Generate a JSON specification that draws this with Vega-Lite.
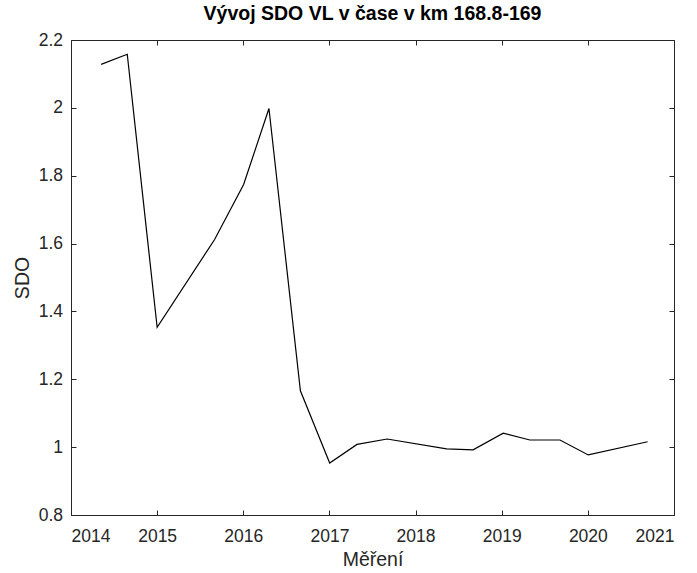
{
  "$schema": "https://vega.github.io/schema/vega-lite/v6.json",
  "autosize": "none",
  "padding": {"left": 71, "top": 40, "right": 22, "bottom": 58},
  "width": 603,
  "height": 475,
  "background": "white",
  "title": {
    "text": "Vývoj SDO VL v čase v km 168.8-169",
    "font": "Liberation Sans",
    "fontSize": 19.5,
    "fontWeight": "bold",
    "color": "#000000",
    "anchor": "middle",
    "offset": 7
  },
  "config": {
    "view": {"stroke": null},
    "axis": {
      "grid": false,
      "domainColor": "#262626",
      "tickColor": "#262626",
      "labelColor": "#262626",
      "titleColor": "#262626",
      "labelFont": "Liberation Sans",
      "titleFont": "Liberation Sans",
      "labelFontSize": 17.5,
      "titleFontSize": 19.5,
      "titleFontWeight": "normal",
      "tickSize": -5,
      "domainWidth": 1,
      "tickWidth": 1
    }
  },
  "data": {
    "values": [
      {"t": 2014.35, "sdo": 2.128},
      {"t": 2014.653, "sdo": 2.158},
      {"t": 2015.0, "sdo": 1.353},
      {"t": 2015.667, "sdo": 1.612},
      {"t": 2016.004, "sdo": 1.774},
      {"t": 2016.298, "sdo": 1.998},
      {"t": 2016.663, "sdo": 1.166},
      {"t": 2017.003, "sdo": 0.953},
      {"t": 2017.32, "sdo": 1.008},
      {"t": 2017.67, "sdo": 1.024},
      {"t": 2018.36, "sdo": 0.995},
      {"t": 2018.668, "sdo": 0.992},
      {"t": 2019.017, "sdo": 1.041},
      {"t": 2019.327, "sdo": 1.021},
      {"t": 2019.676, "sdo": 1.021},
      {"t": 2020.005, "sdo": 0.977},
      {"t": 2020.694, "sdo": 1.016}
    ]
  },
  "layer": [
    {
      "mark": {"type": "line", "color": "#000000", "strokeWidth": 1.2},
      "encoding": {
        "x": {
          "field": "t", "type": "quantitative",
          "scale": {"domain": [2014, 2021], "nice": false, "zero": false},
          "axis": {"orient": "bottom", "title": "Měření", "values": [2014, 2015, 2016, 2017, 2018, 2019, 2020, 2021], "format": "d", "labelPadding": 17, "titlePadding": 6}
        },
        "y": {
          "field": "sdo", "type": "quantitative",
          "scale": {"domain": [0.8, 2.2], "nice": false, "zero": false},
          "axis": {"orient": "left", "title": "SDO", "values": [0.8, 1, 1.2, 1.4, 1.6, 1.8, 2, 2.2], "format": "~g", "labelPadding": 13.5, "titlePadding": 6}
        }
      }
    },
    {
      "mark": {"type": "line", "strokeOpacity": 0},
      "encoding": {
        "x": {
          "field": "t", "type": "quantitative",
          "scale": {"domain": [2014, 2021], "nice": false, "zero": false},
          "axis": {"orient": "top", "title": null, "labels": false, "values": [2014, 2015, 2016, 2017, 2018, 2019, 2020, 2021]}
        },
        "y": {
          "field": "sdo", "type": "quantitative",
          "scale": {"domain": [0.8, 2.2], "nice": false, "zero": false},
          "axis": {"orient": "right", "title": null, "labels": false, "values": [0.8, 1, 1.2, 1.4, 1.6, 1.8, 2, 2.2]}
        }
      }
    }
  ],
  "resolve": {"axis": {"x": "independent", "y": "independent"}}
}
